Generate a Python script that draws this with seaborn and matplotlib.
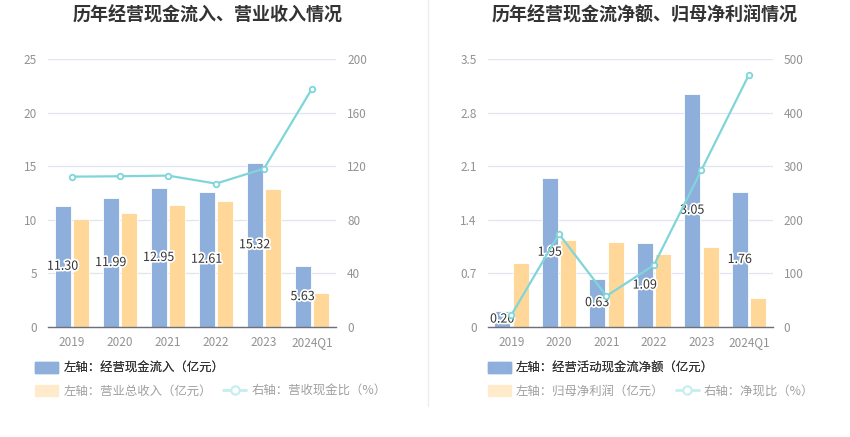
import numpy as np
import pandas as pd
import matplotlib
matplotlib.use("Agg")
import matplotlib.pyplot as plt
import matplotlib.patheffects as pe
from matplotlib.patches import Patch
from matplotlib.lines import Line2D
import seaborn as sns

# DATOS

years = ["2019", "2020", "2021", "2022", "2023", "2024Q1"]

cash_inflow = [11.30, 11.99, 12.95, 12.61, 15.32, 5.63]      # 经营现金流入
revenue = [10.04, 10.63, 11.41, 11.75, 12.90, 3.15]          # 营业总收入
cash_rev_ratio = [112.2, 112.5, 113.0, 107.0, 118.2, 178.0]  # 营收现金比

net_cash = [0.20, 1.95, 0.63, 1.09, 3.05, 1.76]              # 经营活动现金流净额
net_profit = [0.84, 1.13, 1.115, 0.95, 1.04, 0.37]           # 归母净利润
net_cash_ratio = [22.4, 173.3, 57.4, 115.3, 293.0, 471.3]    # 净现比

# COLORES

blue = "#8eaedb"
orange = "#ffd899"
teal = "#7fd6d9"
orange_fade = "#ffebcc"
teal_fade = "#c4eef0"
grid_color = "#e0e6f1"
tick_color = "#929292"
axis_color = "#6e7079"

sns.set_theme(style="white")
plt.rcParams["font.family"] = ["Noto Sans CJK SC", "DejaVu Sans"]

fig = plt.figure(figsize=(8.5, 4.37), dpi=100)


def draw_panel(rect, title, title_x, left_name, bar_a, bar_b, right_name,
               ratio, left_max, left_step, right_max, right_step, left_fmt,
               leg_x):
    ax = fig.add_axes(rect)
    df = pd.DataFrame({
        "year": years * 2,
        "value": bar_a + bar_b,
        "serie": ["a"] * len(years) + ["b"] * len(years),
    })
    sns.barplot(data=df, x="year", y="value", hue="serie",
                palette=[blue, orange], saturation=1, width=0.78, gap=0.15,
                edgecolor="white", linewidth=0.6, legend=False, ax=ax,
                zorder=2)

    ax.set_ylim(0, left_max)
    lt = np.arange(0, left_max + left_step / 2, left_step)
    ax.set_yticks(lt)
    ax.set_yticklabels([left_fmt(v) for v in lt])
    ax.yaxis.grid(True, color=grid_color, linewidth=0.9, zorder=0)
    ax.set_axisbelow(True)
    ax.set_xlabel("")
    ax.set_ylabel("")
    for s in ["top", "left", "right"]:
        ax.spines[s].set_visible(False)
    ax.spines["bottom"].set_color(axis_color)
    ax.spines["bottom"].set_linewidth(1.0)
    ax.tick_params(axis="x", colors=axis_color, length=4, width=0.8,
                   labelsize=8.5, labelcolor=tick_color, pad=3)
    ax.tick_params(axis="y", length=0, labelsize=8.5, labelcolor=tick_color,
                   pad=8)

    # etiquetas de la barra azul, centradas
    bars_a = ax.containers[0]
    for rect_bar, v in zip(bars_a, bar_a):
        x = rect_bar.get_x() + rect_bar.get_width() / 2
        ax.text(x, v / 2, f"{v:.2f}", ha="center", va="center",
                fontsize=9, color="#333333", zorder=5,
                path_effects=[pe.withStroke(linewidth=2.5, foreground="white")])

    ax2 = ax.twinx()
    sns.lineplot(x=np.arange(len(years)), y=ratio, color=teal,
                 linewidth=1.6, marker="o", markersize=4,
                 markerfacecolor="white", markeredgecolor=teal,
                 markeredgewidth=1.3, ax=ax2, zorder=4)
    ax2.set_ylim(0, right_max)
    ax2.set_yticks(np.arange(0, right_max + 1, right_step))
    for s in ["top", "left", "right", "bottom"]:
        ax2.spines[s].set_visible(False)
    ax2.tick_params(axis="y", length=0, labelsize=8.5, labelcolor=tick_color,
                    pad=8)
    ax2.set_xlim(-0.5, len(years) - 0.5)
    ax2.grid(False)

    # titulo
    fig.text(title_x / 850, 0.966, title, ha="center", va="center",
             fontsize=13, fontweight="bold", color="#333333")

    # leyenda en dos filas
    h1 = [Patch(facecolor=blue, edgecolor=blue)]
    leg1 = ax.legend(h1, [left_name], loc="upper left",
                     bbox_to_anchor=(leg_x, -0.112), frameon=False,
                     fontsize=8.9, handlelength=1.9, handleheight=1.05,
                     handletextpad=0.4, borderaxespad=0)
    for t in leg1.get_texts():
        t.set_color("#333333")
    ax.add_artist(leg1)

    h2 = [Patch(facecolor=orange_fade, edgecolor=orange_fade),
          Line2D([0], [0], color=teal_fade, linewidth=2, marker="o",
                 markersize=6, markerfacecolor="white",
                 markeredgecolor=teal_fade, markeredgewidth=1.5)]
    leg2 = ax2.legend(h2, right_name,
                      loc="upper left", bbox_to_anchor=(leg_x, -0.199),
                      frameon=False, ncol=2, fontsize=8.9, handlelength=1.9,
                      handleheight=1.05, handletextpad=0.4, columnspacing=0.9,
                      borderaxespad=0)
    for t in leg2.get_texts():
        t.set_color("#a0a0a0")
    return ax


draw_panel([0.0565, 0.2524, 0.3388, 0.612], "历年经营现金流入、营业收入情况", 208,
           "左轴：经营现金流入（亿元）", cash_inflow, revenue,
           ["左轴：营业总收入（亿元）", "右轴：营收现金比（%）"], cash_rev_ratio,
           25, 5, 200, 40, lambda v: f"{v:g}", -0.063)

draw_panel([0.5738, 0.2524, 0.3353, 0.612], "历年经营现金流净额、归母净利润情况", 645,
           "左轴：经营活动现金流净额（亿元）", net_cash, net_profit,
           ["左轴：归母净利润（亿元）", "右轴：净现比（%）"], net_cash_ratio,
           3.5, 0.7, 500, 100, lambda v: "0" if v == 0 else f"{v:.1f}", -0.018)

# linea divisoria
fig.add_artist(Line2D([0.503, 0.503], [0.07, 1.0], color="#eeeeee",
                      linewidth=1))

plt.savefig("out.png", dpi=100)
